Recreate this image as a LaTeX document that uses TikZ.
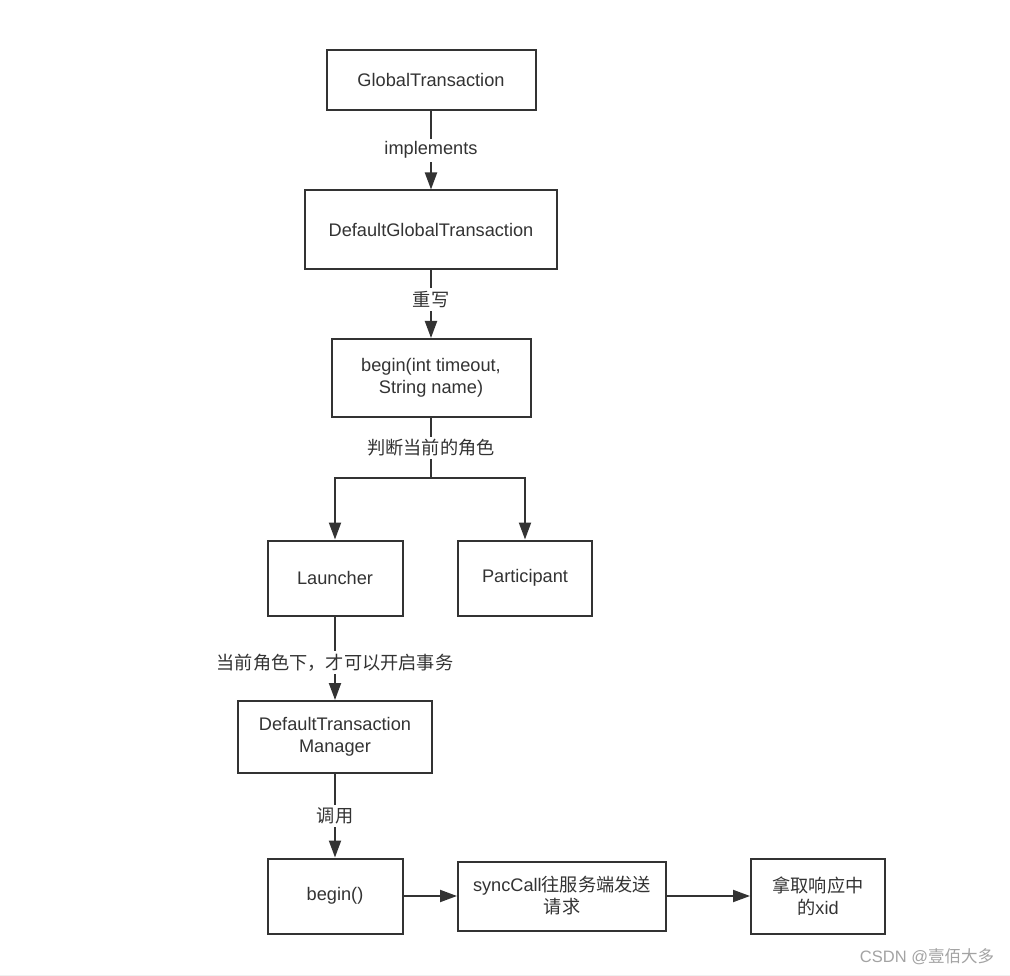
\documentclass[tikz,border=0pt]{standalone}
\usepackage{fontspec}
\setmainfont{Liberation Sans}
\newfontfamily\cjk{Noto Sans CJK SC}
\usetikzlibrary{arrows.meta}
\definecolor{linecol}{HTML}{333333}
\definecolor{wmark}{HTML}{A3A3A3}
\begin{document}
\begin{tikzpicture}[x=1pt, y=-1pt, font=\fontsize{18.2}{22}\selectfont, text=linecol,
    box/.style={draw=linecol, line width=2pt, align=center, inner sep=0pt, fill=white},
    flow/.style={draw=linecol, line width=2pt, -{Triangle[length=17pt,width=12pt]}},
    tag/.style={fill=white, inner sep=3pt}]
    \useasboundingbox[fill=white] (0,0) rectangle (1010,976);
    % Nodes
    \node[box, minimum width=209pt, minimum height=60pt] (gt) at (431,80) {GlobalTransaction};
    \node[box, minimum width=252pt, minimum height=79pt] (dgt) at (431,230) {DefaultGlobalTransaction};
    \node[box, minimum width=199pt, minimum height=78pt] (bg) at (431,378) {begin(int timeout,\\String name)};
    \node[box, minimum width=135pt, minimum height=75pt] (launcher) at (335,578) {Launcher};
    \node[box, minimum width=134pt, minimum height=75pt] (part) at (525,578) {Participant};
    \node[box, minimum width=194pt, minimum height=72pt] (dtm) at (335,737) {DefaultTransaction\\Manager};
    \node[box, minimum width=135pt, minimum height=75pt] (bgn) at (335,896) {begin()};
    \node[box, minimum width=208pt, minimum height=69pt] (sync) at (562,896) {syncCall{\cjk 往服务端发送}\\{\cjk 请求}};
    \node[box, minimum width=134pt, minimum height=75pt] (xid) at (818,896) {{\cjk 拿取响应中}\\{\cjk 的}xid};
    \coordinate (split) at (431,478);
    % Edges
    \draw[flow] (gt) -- node[tag] {implements} (dgt);
    \draw[flow] (dgt) -- node[tag, pos=0.43] {\cjk 重写} (bg);
    \draw[line width=2pt, draw=linecol] (bg) -- node[tag] {\cjk 判断当前的角色} (split);
    \draw[flow] (split) -| (launcher.north);
    \draw[flow] (split) -| (part.north);
    \draw[flow] (launcher) -- node[tag, pos=0.55] {\cjk 当前角色下，才可以开启事务} (dtm);
    \draw[flow] (dtm) -- node[tag] {\cjk 调用} (bgn);
    \draw[flow] (bgn) -- (sync);
    \draw[flow] (sync) -- (xid);
    % Watermark
    \node[text=wmark, font=\fontsize{16.5}{18}\selectfont] (mark) at (927,957) {CSDN @{\cjk 壹佰大多}};
    \draw[gray!12, line width=1pt] (0,975) -- (1010,975);
\end{tikzpicture}
\end{document}
